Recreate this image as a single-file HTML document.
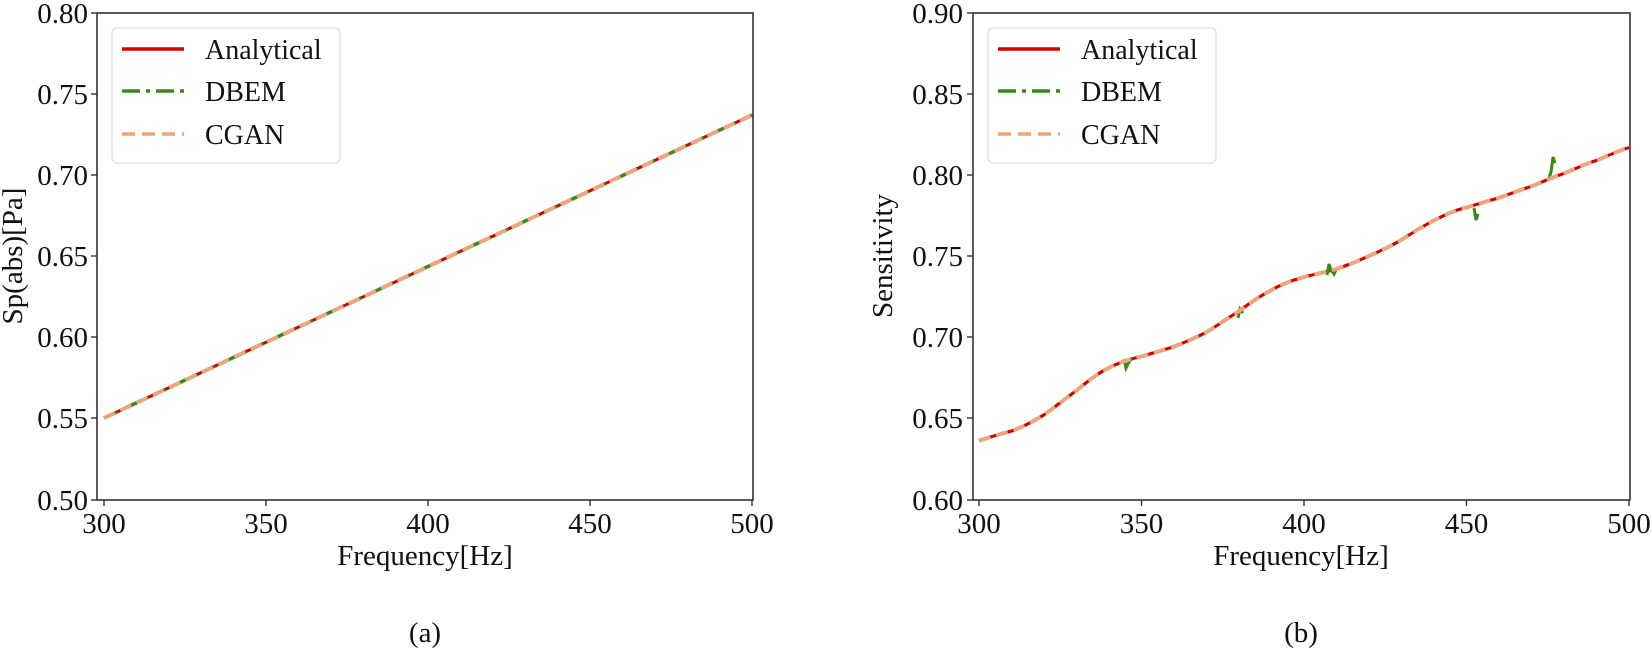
<!DOCTYPE html>
<html><head><meta charset="utf-8"><style>
html,body{margin:0;padding:0;background:#fff;}
svg{display:block;font-family:"Liberation Serif",serif;}
</style></head><body>
<svg width="1651" height="658" viewBox="0 0 1651 658" xmlns="http://www.w3.org/2000/svg">
<!-- LEFT PLOT -->
<g>
  <polyline points="104,418 752,115" fill="none" stroke="#d40000" stroke-width="3"/>
  <polyline points="104,418 752,115" fill="none" stroke="#3a8a1a" stroke-width="3.5" stroke-dasharray="14,5,3,5"/>
  <polyline points="104,418 752,115" fill="none" stroke="#eea47c" stroke-width="4" stroke-dasharray="12,6"/>
  <rect x="97" y="13" width="656" height="487" fill="none" stroke="#333" stroke-width="1.6"/>
  <g stroke="#333" stroke-width="1.4">
    <line x1="91" y1="13" x2="97" y2="13"/><line x1="91" y1="94" x2="97" y2="94"/><line x1="91" y1="175" x2="97" y2="175"/>
    <line x1="91" y1="256" x2="97" y2="256"/><line x1="91" y1="337" x2="97" y2="337"/><line x1="91" y1="418" x2="97" y2="418"/><line x1="91" y1="500" x2="97" y2="500"/>
    <line x1="104" y1="500" x2="104" y2="506"/><line x1="266" y1="500" x2="266" y2="506"/><line x1="428" y1="500" x2="428" y2="506"/><line x1="590" y1="500" x2="590" y2="506"/><line x1="752" y1="500" x2="752" y2="506"/>
  </g>
  <g font-size="29" text-anchor="end" fill="#111">
    <text x="88" y="23">0.80</text><text x="88" y="104">0.75</text><text x="88" y="185">0.70</text>
    <text x="88" y="266">0.65</text><text x="88" y="347">0.60</text><text x="88" y="428">0.55</text><text x="88" y="510">0.50</text>
  </g>
  <g font-size="29" text-anchor="middle" fill="#111">
    <text x="104" y="533">300</text><text x="266" y="533">350</text><text x="428" y="533">400</text><text x="590" y="533">450</text><text x="752" y="533">500</text>
    <text x="425" y="565">Frequency[Hz]</text>
    <text x="425" y="642">(a)</text>
  </g>
  <text transform="translate(22,256) rotate(-90)" font-size="29" text-anchor="middle" fill="#111">Sp(abs)[Pa]</text>
  <rect x="112" y="28" width="228" height="135" rx="5" fill="#fff" fill-opacity="0.85" stroke="#ddd" stroke-width="1.2"/>
  <line x1="122" y1="49" x2="184" y2="49" stroke="#d40000" stroke-width="3.5"/>
  <line x1="122" y1="91" x2="184" y2="91" stroke="#3a8a1a" stroke-width="3.5" stroke-dasharray="18,6,4,6"/>
  <line x1="122" y1="134" x2="184" y2="134" stroke="#eea47c" stroke-width="3.5" stroke-dasharray="13,7"/>
  <g font-size="28" fill="#111"><text x="205" y="59">Analytical</text><text x="205" y="101">DBEM</text><text x="205" y="144">CGAN</text></g>
</g>
<!-- RIGHT PLOT -->
<g>
  <path id="c" d="M979,440.7 C990,437 1000,434 1011.5,431 C1023,427 1034,421 1044,414.8 C1055,407 1066,398 1076.5,390.5 C1088,381 1098,373 1109,367.8 C1120,362 1130,359 1141.5,356.4 C1153,353 1163,350 1174,346.7 C1185,342 1196,338 1206.5,332.1 C1218,325 1228,318 1239,311.1 C1250,303 1260,296 1271.5,290 C1282,284 1293,280 1304,277.1 C1315,274 1326,272 1336.5,269 C1348,265 1358,261 1369,256 C1380,251 1391,246 1401.5,239.8 C1412,233 1423,226 1434,220.4 C1445,215 1455,210 1466.5,207.4 C1478,204 1488,201 1499,197.7 C1510,194 1520,190 1531.5,186.3 C1542,182 1553,177 1564,173.4 C1575,169 1585,164 1596.5,160.4 C1607,156 1618,151 1629,147.5" fill="none" stroke="#d40000" stroke-width="3"/>
  <use href="#c" stroke="#3a8a1a" stroke-width="3.5" stroke-dasharray="14,5,3,5"/>
  <g stroke="#3a8a1a" stroke-width="3" fill="none">
    <polyline points="1124,359 1126,368 1129,362 1132,358"/>
    <polyline points="1238,318 1240,309 1243,313"/>
    <polyline points="1327,275 1329,264 1331,270 1334,274 1337,268"/>
    <polyline points="1474,208 1476,220 1478,214"/>
    <polyline points="1548,181 1551,172 1553,157 1555,163"/>
  </g>
  <path d="M979,440.7 C990,437 1000,434 1011.5,431 C1023,427 1034,421 1044,414.8 C1055,407 1066,398 1076.5,390.5 C1088,381 1098,373 1109,367.8 C1120,362 1130,359 1141.5,356.4 C1153,353 1163,350 1174,346.7 C1185,342 1196,338 1206.5,332.1 C1218,325 1228,318 1239,311.1 C1250,303 1260,296 1271.5,290 C1282,284 1293,280 1304,277.1 C1315,274 1326,272 1336.5,269 C1348,265 1358,261 1369,256 C1380,251 1391,246 1401.5,239.8 C1412,233 1423,226 1434,220.4 C1445,215 1455,210 1466.5,207.4 C1478,204 1488,201 1499,197.7 C1510,194 1520,190 1531.5,186.3 C1542,182 1553,177 1564,173.4 C1575,169 1585,164 1596.5,160.4 C1607,156 1618,151 1629,147.5" fill="none" stroke="#eea47c" stroke-width="4" stroke-dasharray="12,6"/>
  <rect x="973" y="13" width="657" height="487" fill="none" stroke="#333" stroke-width="1.6"/>
  <g stroke="#333" stroke-width="1.4">
    <line x1="967" y1="13" x2="973" y2="13"/><line x1="967" y1="94" x2="973" y2="94"/><line x1="967" y1="175" x2="973" y2="175"/>
    <line x1="967" y1="256" x2="973" y2="256"/><line x1="967" y1="337" x2="973" y2="337"/><line x1="967" y1="418" x2="973" y2="418"/><line x1="967" y1="500" x2="973" y2="500"/>
    <line x1="979" y1="500" x2="979" y2="506"/><line x1="1141.5" y1="500" x2="1141.5" y2="506"/><line x1="1304" y1="500" x2="1304" y2="506"/><line x1="1466.5" y1="500" x2="1466.5" y2="506"/><line x1="1629" y1="500" x2="1629" y2="506"/>
  </g>
  <g font-size="29" text-anchor="end" fill="#111">
    <text x="963" y="23">0.90</text><text x="963" y="104">0.85</text><text x="963" y="185">0.80</text>
    <text x="963" y="266">0.75</text><text x="963" y="347">0.70</text><text x="963" y="428">0.65</text><text x="963" y="510">0.60</text>
  </g>
  <g font-size="29" text-anchor="middle" fill="#111">
    <text x="979" y="533">300</text><text x="1141.5" y="533">350</text><text x="1304" y="533">400</text><text x="1466.5" y="533">450</text><text x="1629" y="533">500</text>
    <text x="1301" y="565">Frequency[Hz]</text>
    <text x="1301" y="642">(b)</text>
  </g>
  <text transform="translate(892,256) rotate(-90)" font-size="29" text-anchor="middle" fill="#111">Sensitivity</text>
  <rect x="988" y="28" width="228" height="135" rx="5" fill="#fff" fill-opacity="0.85" stroke="#ddd" stroke-width="1.2"/>
  <line x1="998" y1="49" x2="1060" y2="49" stroke="#d40000" stroke-width="3.5"/>
  <line x1="998" y1="91" x2="1060" y2="91" stroke="#3a8a1a" stroke-width="3.5" stroke-dasharray="18,6,4,6"/>
  <line x1="998" y1="134" x2="1060" y2="134" stroke="#eea47c" stroke-width="3.5" stroke-dasharray="13,7"/>
  <g font-size="28" fill="#111"><text x="1081" y="59">Analytical</text><text x="1081" y="101">DBEM</text><text x="1081" y="144">CGAN</text></g>
</g>
</svg>
</body></html>
